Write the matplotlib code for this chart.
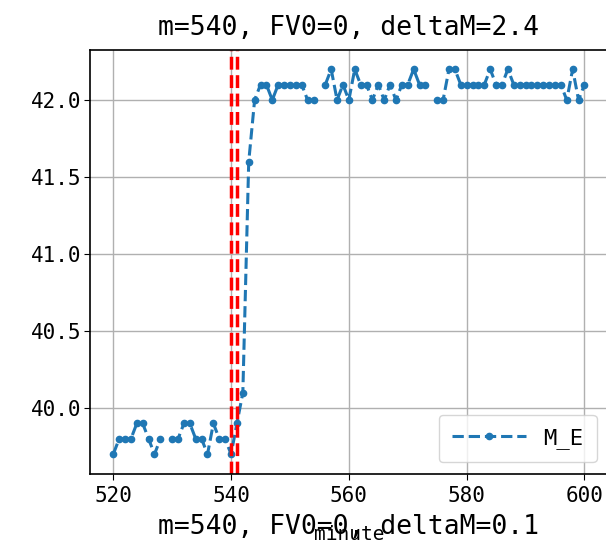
import numpy as np
import matplotlib
matplotlib.use("Agg")
import matplotlib.pyplot as plt

plt.rcParams['font.family'] = ['DejaVu Sans Mono']

minutes = list(range(520, 601))
nan = np.nan
m_e = [
    39.7, 39.8, 39.8, 39.8, 39.9, 39.9, 39.8, 39.7, 39.8, nan,   # 520-529
    39.8, 39.8, 39.9, 39.9, 39.8, 39.8, 39.7, 39.9, 39.8, 39.8,  # 530-539
    39.7, 39.9, 40.1, 41.6, 42.0, 42.1, 42.1, 42.0, 42.1, 42.1,  # 540-549
    42.1, 42.1, 42.1, 42.0, 42.0, nan,  42.1, 42.2, 42.0, 42.1,  # 550-559
    42.0, 42.2, 42.1, 42.1, 42.0, 42.1, 42.0, 42.1, 42.0, 42.1,  # 560-569
    42.1, 42.2, 42.1, 42.1, nan,  42.0, 42.0, 42.2, 42.2, 42.1,  # 570-579
    42.1, 42.1, 42.1, 42.1, 42.2, 42.1, 42.1, 42.2, 42.1, 42.1,  # 580-589
    42.1, 42.1, 42.1, 42.1, 42.1, 42.1, 42.1, 42.0, 42.2, 42.0,  # 590-599
    42.1,                                                        # 600
]
event_lines = [540, 541]
title_top = "m=540, FV0=0, deltaM=2.4"
title_next = "m=540, FV0=0, deltaM=0.1"
series_label = "M_E"
x_label = "minute"

W, H = 606, 551
fig = plt.figure(figsize=(W / 100, H / 100), dpi=100)
ax = fig.add_axes([89.7 / W, 1 - 473.5 / H, (608 - 89.7) / W, (473.5 - 50) / H])

ax.plot(minutes, m_e, linestyle='--', marker='.', color='#1f77b4',
        linewidth=2.2, markersize=9, label=series_label)
for x in event_lines:
    ax.axvline(x, color='red', linestyle='--', linewidth=2.5)

ax.set_xlim(516, 604)
ax.set_ylim(39.575, 42.325)
ax.set_xticks([520, 540, 560, 580, 600])
ax.set_yticks([40.0, 40.5, 41.0, 41.5, 42.0])
ax.set_yticklabels(['40.0', '40.5', '41.0', '41.5', '42.0'])
ax.tick_params(labelsize=15, length=4, pad=2)
ax.tick_params(axis='x', pad=5)
ax.grid(True, color='#b0b0b0', linewidth=1)
ax.set_axisbelow(True)
for s in ax.spines.values():
    s.set_linewidth(1.2)

ax.set_title(title_top, fontsize=19, pad=11)
ax.set_xlabel(x_label, fontsize=14, labelpad=14)
ax.legend(loc='lower right', fontsize=16, handlelength=3.3, borderpad=0.6)

fig.text((89.7 + 608) / 2 / W, 1 - 527 / H, title_next, fontsize=19,
         ha='center', va='center')

fig.savefig('out.png', dpi=100)
